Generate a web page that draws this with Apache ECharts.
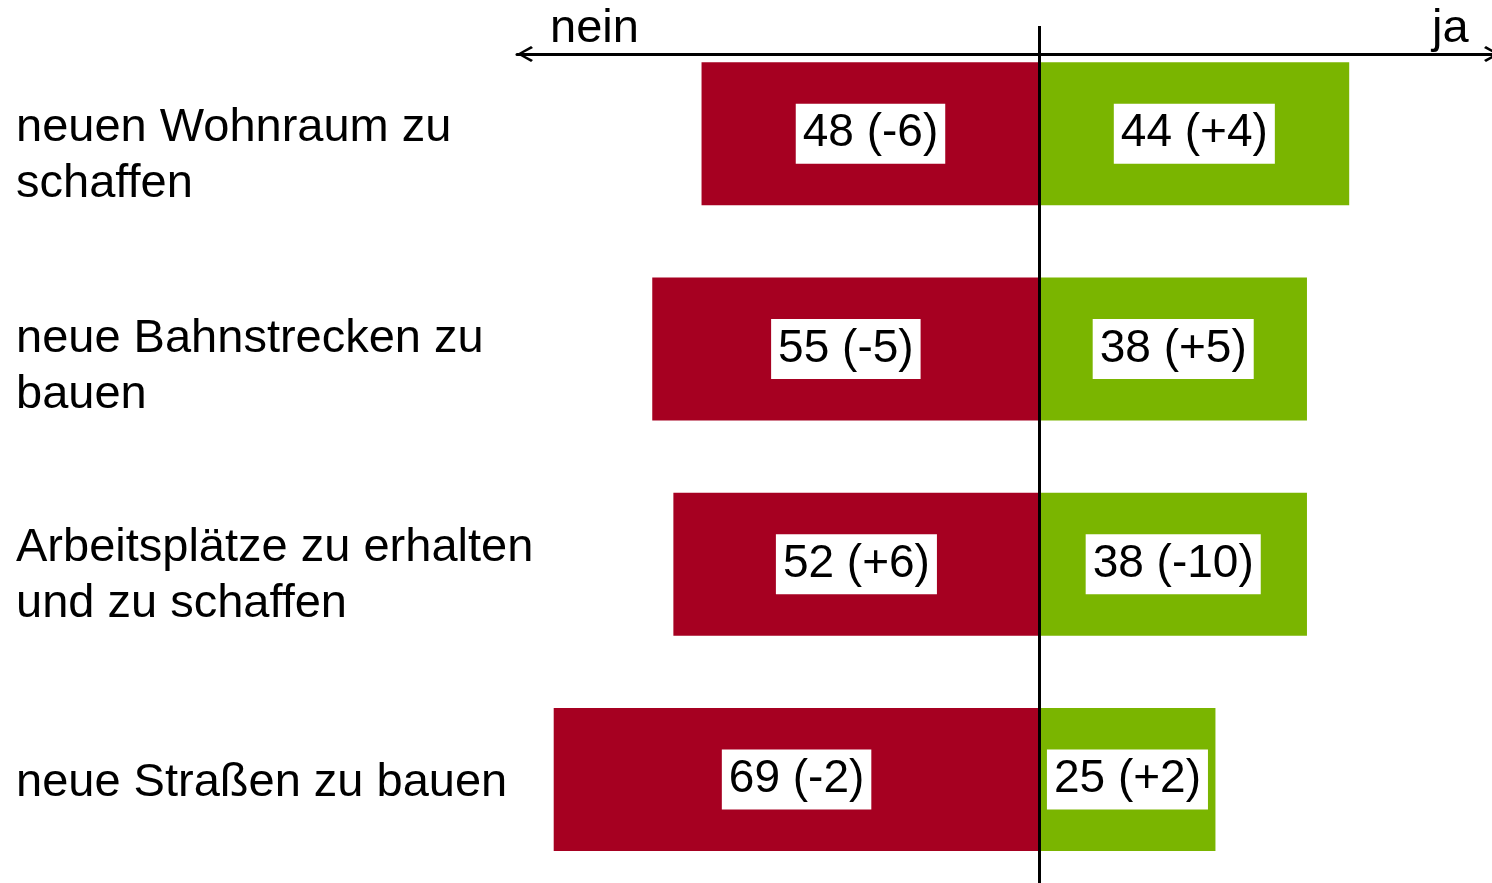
<!DOCTYPE html>
<html>
<head>
<meta charset="utf-8">
<style>
  html, body { margin: 0; padding: 0; background: #fff; }
  #chart { width: 1492px; height: 883px; }
</style>
<script src="https://cdn.jsdelivr.net/npm/echarts@6/dist/echarts.min.js"></script>
</head>
<body>
<div id="chart"></div>
<script>
// ---- data ----
const categories = [
  'neuen Wohnraum zu\nschaffen',
  'neue Bahnstrecken zu\nbauen',
  'Arbeitsplätze zu erhalten\nund zu schaffen',
  'neue Straßen zu bauen'
];
const neinValues = [48, 55, 52, 69];
const neinChanges = ['-6', '-5', '+6', '-2'];
const jaValues = [44, 38, 38, 25];
const jaChanges = ['+4', '+5', '-10', '+2'];
const sideLabels = ['nein', 'ja'];

// layout only: extra top spacing (px) pushing each category label down
const labelSpacer = [44, 36, 24, 7];

const FONT = "'Liberation Sans', Arial, sans-serif";
const RED = '#A60021';
const GREEN = '#7AB500';

const chart = echarts.init(document.getElementById('chart'), null, { renderer: 'canvas' });

const labelStyle = {
  show: true,
  position: 'inside',
  color: '#000',
  fontSize: 46,
  fontFamily: FONT,
  backgroundColor: '#fff',
  padding: [4, 7],
  lineHeight: 52
};

const hiddenValueAxis = {
  type: 'value', show: false, min: 0, max: 1,
  axisLine: { show: false }, axisTick: { show: false },
  axisLabel: { show: false }, splitLine: { show: false }
};

const spacerRich = {};
labelSpacer.forEach((h, i) => {
  spacerRich['s' + i] = { fontSize: 1, lineHeight: h };
});

const option = {
  animation: false,
  backgroundColor: '#fff',
  title: [
    { text: sideLabels[0], left: 550, top: 6, padding: 0,
      textStyle: { fontSize: 47, fontWeight: 'normal', color: '#000', fontFamily: FONT } },
    { text: sideLabels[1], left: 1432, top: 6, padding: 0,
      textStyle: { fontSize: 47, fontWeight: 'normal', color: '#000', fontFamily: FONT } }
  ],
  grid: [
    { left: 518.5, right: 2, top: 26, bottom: -4, containLabel: false, outerBoundsMode: 'none' },
    { left: 517, right: 0, top: 54, height: 1, containLabel: false, outerBoundsMode: 'none' },
    { left: 0, width: 16, top: 26, bottom: -4, containLabel: false, outerBoundsMode: 'none' }
  ],
  xAxis: [
    {
      gridIndex: 0, type: 'value', min: -74, max: 64, position: 'top',
      axisLine: { show: false }, axisTick: { show: false },
      axisLabel: { show: false }, splitLine: { show: false }
    },
    {
      gridIndex: 1, type: 'value', min: -74, max: 64, position: 'top',
      axisLine: {
        show: true, onZero: false,
        lineStyle: { color: '#000', width: 3 },
        symbol: ['path://M50,0 L100,88 L88,100 L50,28 L12,100 L0,88 Z',
                 'path://M50,0 L100,88 L88,100 L50,28 L12,100 L0,88 Z'],
        symbolSize: [16, 16],
        symbolOffset: [8, 0]
      },
      axisTick: { show: false }, axisLabel: { show: false }, splitLine: { show: false }
    },
    Object.assign({ gridIndex: 2 }, hiddenValueAxis)
  ],
  yAxis: [
    {
      gridIndex: 0, type: 'category', inverse: true,
      data: categories,
      axisLine: { show: false }, axisTick: { show: false }, splitLine: { show: false },
      axisLabel: { show: false }
    },
    Object.assign({ gridIndex: 1 }, hiddenValueAxis),
    {
      gridIndex: 2, type: 'category', inverse: true, position: 'right',
      data: categories,
      axisLine: { show: false }, axisTick: { show: false }, splitLine: { show: false },
      axisLabel: {
        margin: 0,
        fontSize: 47, lineHeight: 56, color: '#000', fontFamily: FONT,
        formatter: (value, index) =>
          labelSpacer[index] > 0 ? '{s' + index + '| }\n' + value : value,
        rich: spacerRich
      }
    }
  ],
  series: [
    {
      name: 'nein', type: 'bar', xAxisIndex: 0, yAxisIndex: 0,
      data: neinValues.map(v => -v),
      barWidth: 143, barGap: '-100%',
      itemStyle: { color: RED },
      label: Object.assign({}, labelStyle, {
        formatter: p => Math.abs(p.value) + ' (' + neinChanges[p.dataIndex] + ')'
      }),
      markLine: {
        silent: true, symbol: 'none',
        label: { show: false },
        lineStyle: { color: '#000', width: 3, type: 'solid' },
        data: [{ xAxis: 0 }],
        z: 10
      }
    },
    {
      name: 'ja', type: 'bar', xAxisIndex: 0, yAxisIndex: 0,
      data: jaValues,
      barWidth: 143, barGap: '-100%',
      itemStyle: { color: GREEN },
      label: Object.assign({}, labelStyle, {
        formatter: p => p.value + ' (' + jaChanges[p.dataIndex] + ')'
      })
    }
  ]
};

chart.setOption(option);
</script>
</body>
</html>
